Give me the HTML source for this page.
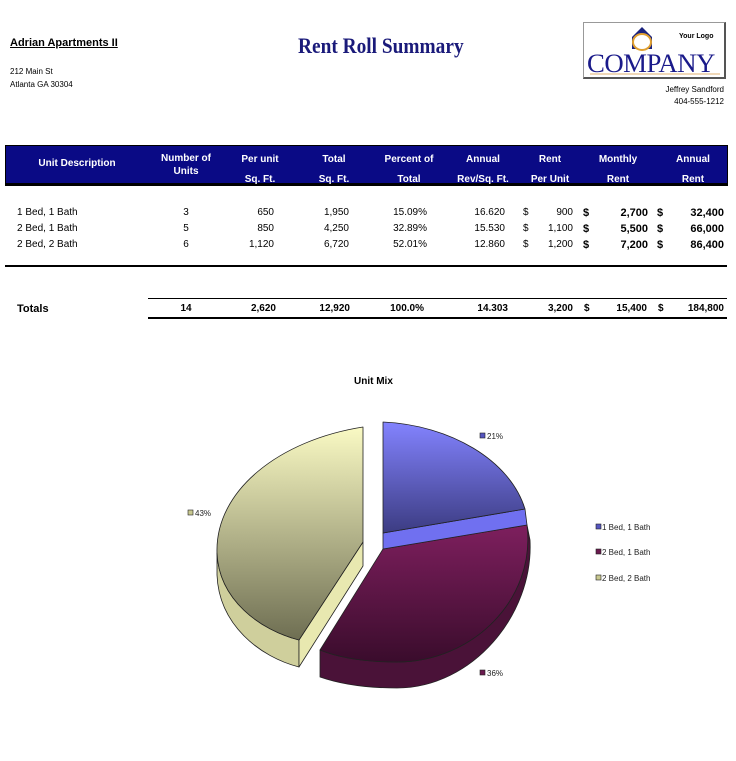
<!DOCTYPE html>
<html><head><meta charset="utf-8"><style>
body{margin:0;background:#fff;width:736px;height:761px;position:relative;overflow:hidden;font-family:"Liberation Sans",Arial,sans-serif;}
.a{position:absolute;white-space:nowrap;}
.r{text-align:right;}
.c{text-align:center;}
.h{color:#fff;font-weight:bold;font-size:10px;}
.d{font-size:10px;color:#000;}
.b{font-weight:bold;}
</style></head><body>
<div class="a b" style="left:10px;top:37px;font-size:11px;text-decoration:underline;">Adrian Apartments II</div>
<div class="a" style="left:10px;top:67px;font-size:8px;">212 Main St</div>
<div class="a" style="left:10px;top:80px;font-size:8px;">Atlanta GA 30304</div>
<div class="a" style="left:298px;top:33px;font-family:'Liberation Serif',serif;font-size:22px;color:#1a1a7a;font-weight:bold;transform:scaleX(0.88);transform-origin:left;">Rent Roll Summary</div>
<div class="a" style="left:583px;top:22px;width:140px;height:54px;border:1px solid #999;border-right:2px solid #555;border-bottom:2px solid #555;background:#fff;overflow:hidden;">
<svg width="140" height="54" style="position:absolute;left:0;top:0">
<polygon points="48,14 58,4 68,14 68,26 48,26" fill="#1a237e"/>
<ellipse cx="58" cy="19" rx="9" ry="8" fill="#fff" stroke="#e0a030" stroke-width="2"/>
<line x1="6" y1="51" x2="136" y2="51" stroke="#e0b070" stroke-width="1"/>
</svg>
<div class="a b" style="left:95px;top:10px;font-size:7px;">Your Logo</div>
<div class="a" style="left:3px;top:26px;font-family:'Liberation Serif',serif;font-size:26px;color:#1a1a8a;transform:scaleX(1.03);transform-origin:left;letter-spacing:-0.5px;">COMPANY</div>
</div>
<div class="a r" style="right:12px;top:85px;font-size:8px;">Jeffrey Sandford</div>
<div class="a r" style="right:12px;top:97px;font-size:8px;">404-555-1212</div>

<div class="a" style="left:5px;top:145px;width:721px;height:37px;background:#0a0a85;border:1px solid #000;border-bottom:3px solid #000;"></div>
<div class="a h c" style="left:17px;width:120px;top:158px;">Unit Description</div>
<div class="a h c" style="left:146px;width:80px;top:152px;line-height:13px;">Number of<br>Units</div>
<div class="a h c" style="left:220px;width:80px;top:150px;line-height:20px;">Per unit<br>Sq. Ft.</div>
<div class="a h c" style="left:294px;width:80px;top:150px;line-height:20px;">Total<br>Sq. Ft.</div>
<div class="a h c" style="left:369px;width:80px;top:150px;line-height:20px;">Percent of<br>Total</div>
<div class="a h c" style="left:443px;width:80px;top:150px;line-height:20px;">Annual<br>Rev/Sq. Ft.</div>
<div class="a h c" style="left:510px;width:80px;top:150px;line-height:20px;">Rent<br>Per Unit</div>
<div class="a h c" style="left:578px;width:80px;top:150px;line-height:20px;">Monthly<br>Rent</div>
<div class="a h c" style="left:653px;width:80px;top:150px;line-height:20px;">Annual<br>Rent</div>

<div class="a d" style="left:17px;top:205px;line-height:16px;">1 Bed, 1 Bath<br>2 Bed, 1 Bath<br>2 Bed, 2 Bath</div>
<div class="a d c" style="left:176px;width:20px;top:205px;line-height:16px;">3<br>5<br>6</div>
<div class="a d r" style="left:224px;width:50px;top:205px;line-height:16px;">650<br>850<br>1,120</div>
<div class="a d r" style="left:299px;width:50px;top:205px;line-height:16px;">1,950<br>4,250<br>6,720</div>
<div class="a d r" style="left:377px;width:50px;top:205px;line-height:16px;">15.09%<br>32.89%<br>52.01%</div>
<div class="a d r" style="left:455px;width:50px;top:205px;line-height:16px;">16.620<br>15.530<br>12.860</div>
<div class="a d" style="left:523px;top:205px;line-height:16px;">$<br>$<br>$</div>
<div class="a d r" style="left:533px;width:40px;top:205px;line-height:16px;">900<br>1,100<br>1,200</div>
<div class="a d b" style="left:583px;top:205px;line-height:16px;font-size:11px;">$<br>$<br>$</div>
<div class="a d r b" style="left:598px;width:50px;top:205px;line-height:16px;font-size:11px;">2,700<br>5,500<br>7,200</div>
<div class="a d b" style="left:657px;top:205px;line-height:16px;font-size:11px;">$<br>$<br>$</div>
<div class="a d r b" style="left:670px;width:54px;top:205px;line-height:16px;font-size:11px;">32,400<br>66,000<br>86,400</div>
<div class="a" style="left:5px;top:265px;width:722px;height:2px;background:#000;"></div>

<div class="a" style="left:148px;top:298px;width:579px;height:1px;background:#000;"></div>
<div class="a" style="left:148px;top:317px;width:579px;height:2px;background:#000;"></div>
<div class="a b" style="left:17px;top:303px;font-size:11px;">Totals</div>
<div class="a b c" style="left:170px;width:32px;top:303px;font-size:10px;">14</div>
<div class="a b r" style="left:216px;width:60px;top:303px;font-size:10px;">2,620</div>
<div class="a b r" style="left:290px;width:60px;top:303px;font-size:10px;">12,920</div>
<div class="a b r" style="left:364px;width:60px;top:303px;font-size:10px;">100.0%</div>
<div class="a b r" style="left:448px;width:60px;top:303px;font-size:10px;">14.303</div>
<div class="a b r" style="left:513px;width:60px;top:303px;font-size:10px;">3,200</div>
<div class="a b" style="left:584px;top:303px;font-size:10px;">$</div>
<div class="a b r" style="left:587px;width:60px;top:303px;font-size:10px;">15,400</div>
<div class="a b" style="left:658px;top:303px;font-size:10px;">$</div>
<div class="a b r" style="left:664px;width:60px;top:303px;font-size:10px;">184,800</div>

<div class="a b" style="left:354px;top:376px;font-size:10px;">Unit Mix</div>
<svg class="a" style="left:0;top:0" width="736" height="761">
<defs>
<linearGradient id="gb" x1="0" y1="0" x2="0" y2="1"><stop offset="0" stop-color="#8383ff"/><stop offset="1" stop-color="#3c3c82"/></linearGradient>
<linearGradient id="gm" x1="0" y1="0" x2="0" y2="1"><stop offset="0" stop-color="#7e1f5e"/><stop offset="1" stop-color="#3a0c2c"/></linearGradient>
<linearGradient id="gy" x1="0" y1="0" x2="0" y2="1"><stop offset="0" stop-color="#fafac4"/><stop offset="1" stop-color="#6e6e52"/></linearGradient>
</defs>
<g stroke="#222" stroke-width="0.8" stroke-linejoin="round">
<path d="M217,553 C219,600 260,630 299,640 L299,667 C260,657 219,625 217,575 Z" fill="#cfcf9c"/>
<path d="M299,640 L363,542 L363,566 L299,667 Z" fill="#e8e8b0"/>
<path d="M363,427 C280,440 215,490 217,553 C219,600 260,630 299,640 L363,542 Z" fill="url(#gy)"/>
<path d="M530,540 C534,615 472,688 397,688 C365,688 340,684 320,677 L320,650 C340,658 365,662 397,662 C472,662 536,600 527,525 Z" fill="#4a1238"/>
<path d="M383,549 L527,525 C536,600 472,662 397,662 C365,662 340,658 320,650 Z" fill="url(#gm)"/>
<path d="M383,533 L525,509 L527,525 L383,549 Z" fill="#7070f0"/>
<path d="M383,422 C450,425 510,460 525,509 L383,533 Z" fill="url(#gb)"/>
</g>
<g stroke="#222" stroke-width="0.6">
<rect x="480" y="433" width="5" height="5" fill="#5555c0"/>
<rect x="188" y="510" width="5" height="5" fill="#c8c890"/>
<rect x="480" y="670" width="5" height="5" fill="#6a1a4e"/>
<rect x="596" y="524" width="5" height="5" fill="#5555c0"/>
<rect x="596" y="549" width="5" height="5" fill="#6a1a4e"/>
<rect x="596" y="575" width="5" height="5" fill="#c8c890"/>
</g>
<g font-family="Liberation Sans, sans-serif" font-size="8" fill="#222">
<text x="487" y="439">21%</text>
<text x="195" y="516">43%</text>
<text x="487" y="676">36%</text>
<text x="602" y="530">1 Bed, 1 Bath</text>
<text x="602" y="555">2 Bed, 1 Bath</text>
<text x="602" y="581">2 Bed, 2 Bath</text>
</g>
</svg>
</body></html>
